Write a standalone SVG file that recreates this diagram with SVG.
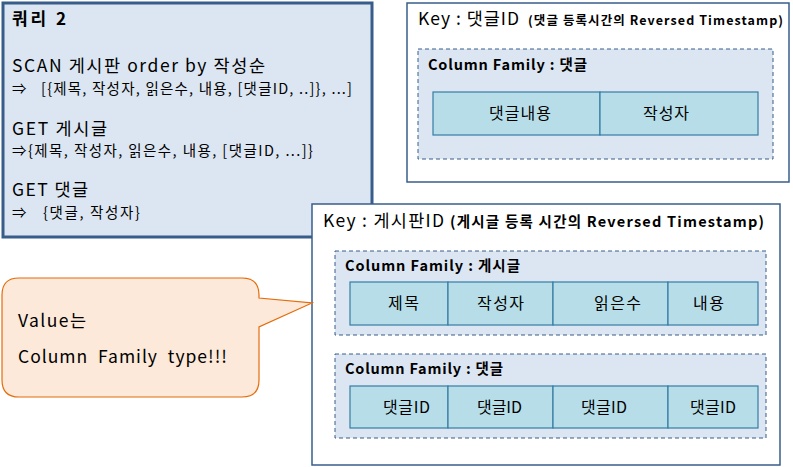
<svg xmlns="http://www.w3.org/2000/svg" width="793" height="467" viewBox="0 0 793 467">
<style>
text{font-family:"Noto Sans CJK KR","Malgun Gothic","Noto Sans",sans-serif;fill:#000}
.pre{white-space:pre}
.box{fill:#fff;stroke:#385D8A;stroke-width:1.5}
.cf{fill:#DCE6F2;stroke:#385D8A;stroke-width:1;stroke-dasharray:4 3}
.cell{fill:#B7DEE8;stroke:#357CA5;stroke-width:1.2}
.b{font-weight:bold}
.ct{font-size:16px}
</style>
<rect width="793" height="467" fill="#fff"/>
<g id="query">
<rect x="3" y="3" width="369" height="234" fill="#DCE6F2" stroke="#385D8A" stroke-width="3"/>
<text x="12" y="25" font-size="17" class="b" textLength="54" lengthAdjust="spacing">쿼리 2</text>
<text x="12" y="72" font-size="17.5" textLength="253" lengthAdjust="spacing">SCAN 게시판 order by 작성순</text>
<text x="12" y="94" font-size="14.5" class="pre" xml:space="preserve" textLength="340" lengthAdjust="spacing">⇒   [{제목, 작성자, 읽은수, 내용, [댓글ID, ..]}, ...]</text>
<text x="12" y="135" font-size="17.5" textLength="95" lengthAdjust="spacing">GET 게시글</text>
<text x="12" y="156" font-size="14.5" textLength="301" lengthAdjust="spacing">⇒{제목, 작성자, 읽은수, 내용, [댓글ID, ...]}</text>
<text x="12" y="196" font-size="17.5" textLength="76" lengthAdjust="spacing">GET 댓글</text>
<text x="12" y="218" font-size="14.5" class="pre" xml:space="preserve" textLength="128" lengthAdjust="spacing">⇒   {댓글, 작성자}</text>
</g>
<g id="comment-key">
<rect class="box" x="407" y="3" width="382" height="179"/>
<text x="418" y="25" font-size="17.5" textLength="101" lengthAdjust="spacing">Key : 댓글ID</text>
<text x="528" y="25" font-size="12.5" class="b" textLength="255" lengthAdjust="spacing">(댓글 등록시간의 Reversed Timestamp)</text>
<rect class="cf" x="418" y="49" width="355" height="110"/>
<text x="428" y="70" font-size="14.5" class="b" textLength="159" lengthAdjust="spacing">Column Family : 댓글</text>
<rect class="cell" x="433" y="92" width="167" height="43"/>
<rect class="cell" x="600" y="92" width="158" height="43"/>
<text class="ct" x="489" y="119" textLength="62" lengthAdjust="spacing">댓글내용</text>
<text class="ct" x="643" y="119" textLength="46" lengthAdjust="spacing">작성자</text>
</g>
<g id="board-key">
<rect class="box" x="312" y="204" width="468" height="261"/>
<text x="323" y="227" font-size="17.5" textLength="121" lengthAdjust="spacing">Key : 게시판ID</text>
<text x="450" y="227" font-size="14.5" class="b" textLength="314" lengthAdjust="spacing">(게시글 등록 시간의 Reversed Timestamp)</text>
<rect class="cf" x="335" y="251" width="431" height="84"/>
<text x="345" y="271" font-size="14.5" class="b" textLength="175" lengthAdjust="spacing">Column Family : 게시글</text>
<rect class="cell" x="350" y="282" width="98" height="43"/>
<rect class="cell" x="448" y="282" width="105" height="43"/>
<rect class="cell" x="553" y="282" width="115" height="43"/>
<rect class="cell" x="668" y="282" width="90" height="43"/>
<text class="ct" x="388" y="309" textLength="31" lengthAdjust="spacing">제목</text>
<text class="ct" x="477" y="309" textLength="47" lengthAdjust="spacing">작성자</text>
<text class="ct" x="594" y="309" textLength="47" lengthAdjust="spacing">읽은수</text>
<text class="ct" x="693" y="309" textLength="31" lengthAdjust="spacing">내용</text>
<rect class="cf" x="335" y="354" width="431" height="84"/>
<text x="345" y="374" font-size="14.5" class="b" textLength="158" lengthAdjust="spacing">Column Family : 댓글</text>
<rect class="cell" x="350" y="386" width="98" height="42"/>
<rect class="cell" x="448" y="386" width="105" height="42"/>
<rect class="cell" x="553" y="386" width="115" height="42"/>
<rect class="cell" x="668" y="386" width="90" height="42"/>
<text class="ct" x="383" y="413" textLength="47" lengthAdjust="spacing">댓글ID</text>
<text class="ct" x="477" y="413" textLength="45" lengthAdjust="spacing">댓글ID</text>
<text class="ct" x="581" y="413" textLength="46" lengthAdjust="spacing">댓글ID</text>
<text class="ct" x="690" y="413" textLength="46" lengthAdjust="spacing">댓글ID</text>
</g>
<g id="callout">
<path d="M19,278 H242 Q259,278 259,295 V298 L312,303 L259,327 V380 Q259,397 242,397 H19 Q2,397 2,380 V295 Q2,278 19,278 Z" fill="#FDE9D9" stroke="#E46C0A" stroke-width="1.2"/>
<text x="18" y="327" font-size="17.5" textLength="68" lengthAdjust="spacing">Value는</text>
<text x="18" y="363" font-size="17.5" class="pre" xml:space="preserve" textLength="209" lengthAdjust="spacing">Column  Family  type!!!</text>
</g>
<g id="connectors"></g>
</svg>
